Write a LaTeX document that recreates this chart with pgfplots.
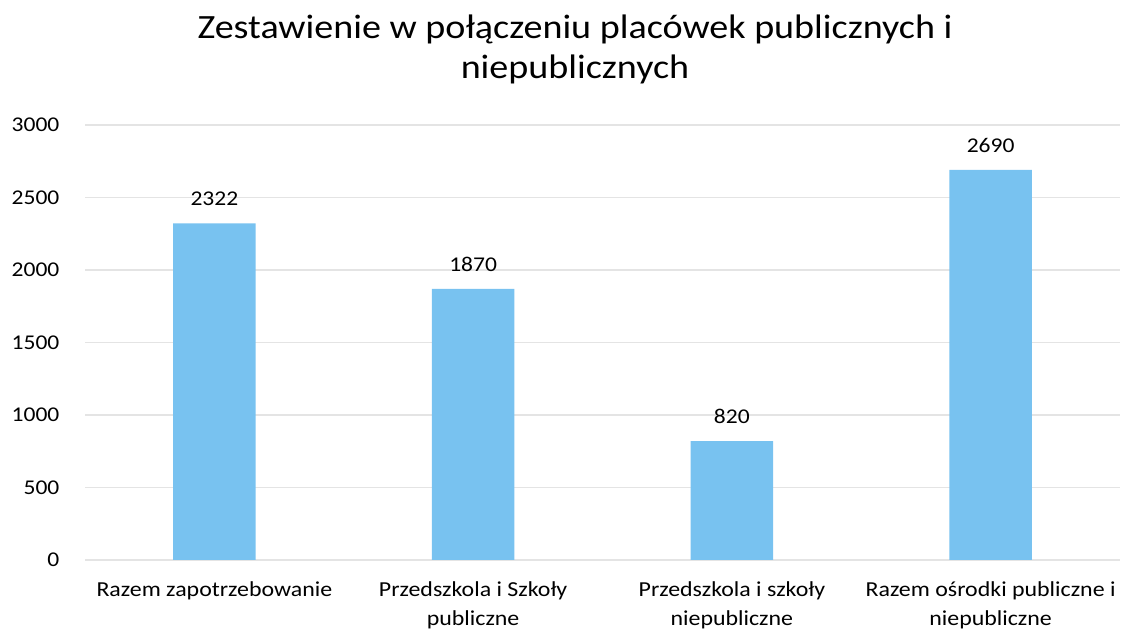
\documentclass[border=0pt]{standalone}
\usepackage{pgfplots}
\pgfplotsset{compat=1.18}
\usepackage{fontspec}
\setmainfont{Carlito}[FakeStretch=1.12]
\definecolor{barblue}{RGB}{120,194,240}
\definecolor{gridgray}{RGB}{228,228,228}
\begin{document}
\begin{tikzpicture}
\begin{axis}[
  at={(63.75pt,54pt)}, anchor=south west,
  scale only axis,
  width=776.25pt, height=326.25pt,
  xmin=-0.5, xmax=3.5,
  ymin=0, ymax=3000,
  ytick={0,500,1000,1500,2000,2500,3000},
  xtick={0,1,2,3},
  xticklabels={Razem zapotrzebowanie, Przedszkola i Szkoły\\publiczne, Przedszkola i szkoły\\niepubliczne, Razem ośrodki publiczne i\\niepubliczne},
  xticklabel style={align=center, font=\fontsize{16}{21.5}\selectfont, inner sep=0pt, yshift=-16pt},
  yticklabel style={font=\fontsize{15.75}{18}\selectfont, inner sep=0pt, xshift=-19pt},
  /pgf/number format/assume math mode=true,
  /pgf/number format/1000 sep={},
  axis line style={draw=none},
  major tick length=0pt,
  ymajorgrids, grid style={gridgray, line width=0.8pt},
  ybar, bar width=62pt,
  nodes near coords,
  nodes near coords style={font=\fontsize{15.75}{18}\selectfont, inner sep=0pt, yshift=12.75pt},
]
\addplot[fill=barblue, draw=none] coordinates {(0,2322) (1,1870) (2,820) (3,2690)};
\end{axis}
\node[anchor=base, align=center, font=\fontsize{25.5}{30}\selectfont] at (431.25pt,414.75pt) {Zestawienie w połączeniu placówek publicznych i\\niepublicznych};
\pgfresetboundingbox
\path[use as bounding box] (0,0) rectangle (841.5pt,474pt);
\end{tikzpicture}
\end{document}
